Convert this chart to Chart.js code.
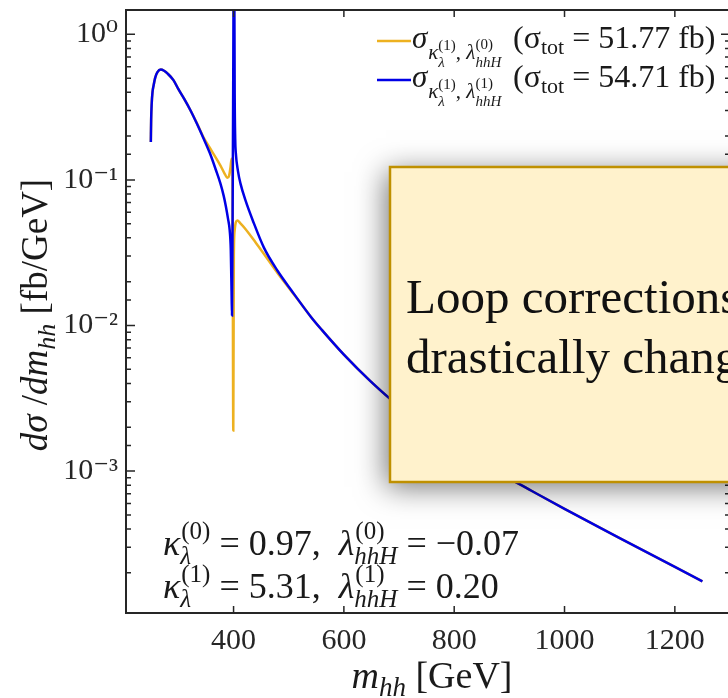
<!DOCTYPE html>
<html><head><meta charset="utf-8">
<script src="https://cdn.jsdelivr.net/npm/chart.js@4.4.1/dist/chart.umd.min.js"></script>
<style>html,body{margin:0;padding:0;width:728px;height:698px;overflow:hidden;background:#fff}canvas{display:block}</style>
</head><body>
<canvas id="c" width="740" height="698" style="width:740px;height:698px"></canvas>
<script>
// ---- data ----
// orange: sigma with kappa^(1), lambda_hhH^(0)
const mhhA = [250,250.6,251.5,253,255,258,262,268,274,281,291,300,310,322,333,345,360,376,383,389,392,394.5,396.5,398,399.5,400.5,402,404,407,412,420,440,460,480,500,520,540,560,600,649,700,780,860,940,1000,1100,1250];
const xsA  = [0.182,0.26,0.33,0.40,0.445,0.505,0.55,0.573,0.562,0.535,0.485,0.42,0.363,0.30,0.248,0.198,0.159,0.126,0.112,0.1035,0.107,0.1225,0.14,0.12,0.0019,0.03,0.045,0.051,0.0527,0.0505,0.0468,0.0372,0.0292,0.0229,0.0182,0.0145,0.0115,0.00933,0.00631,0.00412,0.00279,0.00168,0.00108,0.000733,0.000550,0.000347,0.000175];
// blue: sigma with kappa^(1), lambda_hhH^(1)
const mhhB = [250,250.6,251.5,253,255,258,262,268,274,281,291,300,310,322,333,345,357,368,376,382,386,390,393,395,396.5,397.2,398.3,399.5,400.3,401.2,402,403,404,408,412.7,421.8,435,455,480,505,540,560,600,649,700,780,860,940,1000,1100,1250];
const xsB  = [0.182,0.26,0.33,0.40,0.445,0.505,0.55,0.573,0.562,0.535,0.485,0.42,0.363,0.30,0.246,0.195,0.153,0.117,0.095,0.078,0.066,0.054,0.045,0.033,0.016,0.0117,0.06,0.6,3.0,3.0,0.4,0.19,0.155,0.115,0.094,0.072,0.0525,0.0343,0.0237,0.0174,0.0115,0.00933,0.00631,0.00412,0.00279,0.00168,0.00108,0.000733,0.000550,0.000347,0.000175];
const xTickValues = [400,600,800,1000,1200];
const yTickValues = [1e-3,1e-2,1e-1,1];
const yTickLabels = ['10\u207B\u00B3','10\u207B\u00B2','10\u207B\u00B9','10\u2070'];
const legendTotals = ['51.77','54.71'];
const legendSup = ['(0)','(1)'];
const seriesColors = ['#EDB120','#0000E6'];
const kappaVals = ['0.97','5.31'];
const lambdaVals = ['\u22120.07','0.20'];
const boxLines = ['Loop corrections','drastically change'];

const FONT = '"Liberation Serif", "DejaVu Serif", serif';
const INK = '#262626';

// draws a row of text pieces; "at" pins a piece to an absolute x, "k" stacks the next piece above/below it
function runs(ctx, x, y, items, draw) {
  let cx = x, stackW = 0;
  for (const it of items) {
    if (it.at !== undefined) { cx = it.at; stackW = 0; }
    ctx.font = (it.i ? 'italic ' : '') + it.s + 'px ' + FONT;
    const w = ctx.measureText(it.t).width;
    if (draw) ctx.fillText(it.t, cx + (it.dx || 0), y + (it.dy || 0));
    if (it.k) { stackW = w + (it.dx || 0); }
    else { cx += Math.max(w + (it.dx || 0), stackW); stackW = 0; }
  }
  return cx - x;
}

const deco = {
  id: 'deco',
  afterDatasetsDraw(chart) {
    const ctx = chart.ctx, a = chart.chartArea;
    const xs = chart.scales.x, ys = chart.scales.y;
    ctx.save();
    // frame
    ctx.strokeStyle = INK; ctx.lineWidth = 2;
    ctx.strokeRect(a.left, a.top, a.right - a.left, a.bottom - a.top);
    // inward ticks
    ctx.lineWidth = 1.5;
    ctx.beginPath();
    for (const t of xs.ticks) {
      const px = xs.getPixelForValue(t.value);
      ctx.moveTo(px, a.bottom); ctx.lineTo(px, a.bottom - 7);
      ctx.moveTo(px, a.top); ctx.lineTo(px, a.top + 7);
    }
    for (const t of ys.ticks) {
      const py = ys.getPixelForValue(t.value);
      if (py < a.top + 1 || py > a.bottom - 1) continue;
      const major = yTickValues.some(v => Math.abs(v - t.value) / v < 1e-6);
      const L = major ? 9 : 5;
      ctx.moveTo(a.left, py); ctx.lineTo(a.left + L, py);
      ctx.moveTo(a.right, py); ctx.lineTo(a.right - L, py);
    }
    ctx.stroke();

    ctx.fillStyle = '#1a1a1a'; ctx.textBaseline = 'alphabetic'; ctx.textAlign = 'left';
    // legend
    const LB = [48, 87];
    for (let r = 0; r < 2; r++) {
      const B = LB[r];
      ctx.strokeStyle = seriesColors[r]; ctx.lineWidth = 2.5;
      ctx.beginPath(); ctx.moveTo(377, B - 7); ctx.lineTo(411, B - 7); ctx.stroke();
      runs(ctx, 412, B, [
        {t:'\u03C3', s:31, i:1},
        {t:'\u03BA', s:21, i:1, dy:11, dx:1},
        {t:'(1)', s:15, dy:2, k:1}, {t:'\u03BB', s:15, i:1, dy:19},
        {t:', ', s:21, dy:11},
        {t:'\u03BB', s:21, i:1, dy:11},
        {t:legendSup[r], s:15, dy:1, k:1}, {t:'hhH', s:15, i:1, dy:19},
        {t:'(\u03C3', s:32, at:513}, {t:'tot', s:22, dy:6}, {t:' = ' + legendTotals[r] + ' fb)', s:32}
      ], true);
    }
    // parameter annotation
    const AB = [555, 598];
    for (let r = 0; r < 2; r++) {
      const B = AB[r];
      runs(ctx, 163, B, [
        {t:'\u03BA', s:36, i:1},
        {t:'(' + r + ')', s:25, dy:-16, k:1, dx:1}, {t:'\u03BB', s:25, i:1, dy:9},
        {t:' = ' + kappaVals[r] + ',  ', s:36},
        {t:'\u03BB', s:36, i:1},
        {t:'(' + r + ')', s:25, dy:-16, k:1, dx:1}, {t:'hhH', s:25, i:1, dy:9},
        {t:' = ' + lambdaVals[r], s:36}
      ], true);
    }
    // x title
    const xt = [{t:'m', s:38, i:1}, {t:'hh', s:27, i:1, dy:8}, {t:' [GeV]', s:38}];
    const wx = runs(ctx, 0, 0, xt, false);
    runs(ctx, 432 - wx / 2, 688, xt, true);
    // y title
    const yt = [{t:'d\u03C3', s:37, i:1}, {t:' /', s:37}, {t:'dm', s:37, i:1}, {t:'hh', s:26, i:1, dy:8}, {t:' [fb/GeV]', s:37}];
    const wy = runs(ctx, 0, 0, yt, false);
    ctx.save(); ctx.translate(47, 315); ctx.rotate(-Math.PI / 2);
    runs(ctx, -wy / 2, 0, yt, true);
    ctx.restore();
    ctx.restore();
  },
  afterDraw(chart) {
    const ctx = chart.ctx;
    ctx.save();
    ctx.shadowColor = 'rgba(0,0,0,0.55)';
    ctx.shadowBlur = 28; ctx.shadowOffsetX = -4; ctx.shadowOffsetY = 5;
    ctx.fillStyle = '#FFF2CC';
    ctx.fillRect(390, 167, 400, 315);
    ctx.shadowColor = 'transparent';
    ctx.strokeStyle = '#BF9000'; ctx.lineWidth = 2.5;
    ctx.strokeRect(390, 167, 400, 315);
    ctx.fillStyle = '#111';
    ctx.font = '49px ' + FONT; ctx.textBaseline = 'alphabetic';
    ctx.fillText(boxLines[0], 406, 313);
    ctx.fillText(boxLines[1], 406, 373);
    ctx.restore();
  }
};

new Chart(document.getElementById('c'), {
  type: 'scatter',
  data: {
    datasets: [
      { data: mhhA.map((m, i) => ({x: m, y: xsA[i]})), borderColor: seriesColors[0], order: 1 },
      { data: mhhB.map((m, i) => ({x: m, y: xsB[i]})), borderColor: seriesColors[1], order: 0 }
    ].map(d => Object.assign(d, { showLine: true, pointRadius: 0, borderWidth: 2.5, cubicInterpolationMode: 'monotone', clip: 0 }))
  },
  options: {
    responsive: false, animation: false, devicePixelRatio: 1,
    layout: { padding: { top: 10, right: 10, left: 0, bottom: 0 } },
    plugins: { legend: { display: false }, tooltip: { enabled: false } },
    scales: {
      x: {
        type: 'linear', min: 205, max: 1300,
        afterBuildTicks: s => { s.ticks = xTickValues.map(v => ({value: v})); },
        afterFit: s => { s.height = 85; s.paddingLeft = 0; s.paddingRight = 0; },
        grid: { display: false, drawTicks: false }, border: { display: false },
        ticks: { color: INK, font: { family: FONT, size: 30 }, padding: 10, autoSkip: false, maxRotation: 0,
                 callback: v => String(v) }
      },
      y: {
        type: 'logarithmic', min: 1.06e-4, max: 1.47,
        afterFit: s => { s.width = 126; s.paddingTop = 0; s.paddingBottom = 0; },
        grid: { display: false, drawTicks: false }, border: { display: false },
        ticks: {
          color: INK, font: { family: FONT, size: 30 }, padding: 8, autoSkip: false,
          callback: v => { const i = yTickValues.findIndex(t => Math.abs(t - v) / t < 1e-6); return i >= 0 ? yTickLabels[i] : ''; }
        }
      }
    }
  },
  plugins: [deco]
});
</script>
</body></html>
